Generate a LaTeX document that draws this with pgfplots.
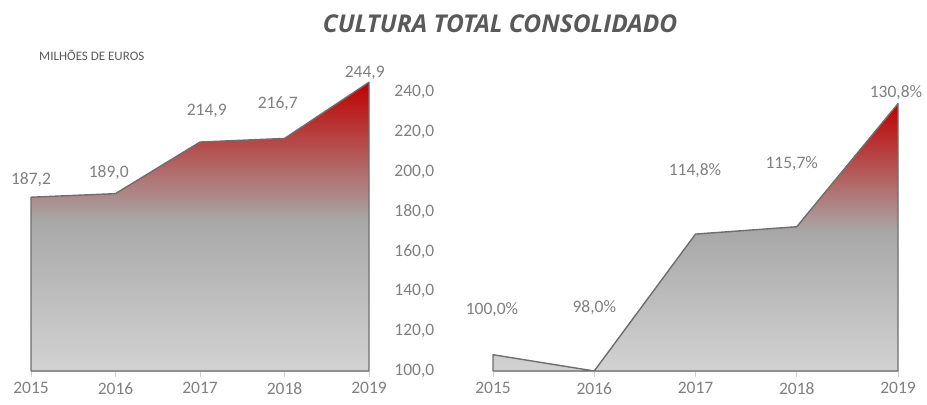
\documentclass[border=0pt]{standalone}
\usepackage{pgfplots}
\pgfplotsset{compat=1.18}
\usepackage{fontspec}
\setmainfont{Carlito}
\newfontfamily\titlefont{Open Sans}
\definecolor{txt}{HTML}{808080}
\definecolor{ttl}{HTML}{595959}
\definecolor{edge}{HTML}{6E6E6E}
\definecolor{axl}{HTML}{D0D0D0}
\definecolor{lg}{HTML}{D2D2D2}
\definecolor{mg}{HTML}{A8A8A8}
\definecolor{rd}{HTML}{C00000}
\pgfdeclareverticalshading{redgray}{100bp}{color(0bp)=(lg); color(25bp)=(lg); color(51bp)=(mg); color(75bp)=(rd); color(100bp)=(rd)}
\begin{document}
\begin{tikzpicture}
\path[use as bounding box] (0,0) rectangle (927bp,405bp);
\pgfplotsset{
  every axis/.append style={
    scale only axis, clip=false,
    height=279bp,
    xmin=2015, xmax=2019,
    xtick={2015,2016,2017,2018,2019},
    xticklabels={2015,2016,2017,2018,2019},
    separate axis lines,
    axis x line*=bottom,
    x axis line style={draw=axl, line width=1bp, -},
    xtick style={draw=axl, line width=0.8bp},
    major tick length=6bp,
    tick align=outside,
    ticklabel style={font=\fontsize{17.5bp}{20bp}\selectfont, text=txt},
    /pgf/number format/assume math mode=true,
    xticklabel style={yshift=-2bp},
  }
}
\begin{axis}[
  at={(31bp,34bp)}, anchor=south west,
  width=338bp,
  ymin=100, ymax=240,
  axis y line*=right,
  y axis line style={draw=none},
  ytick={100,120,...,240},
  ytick style={draw=none},
  yticklabel style={anchor=west, xshift=16bp, /pgf/number format/.cd, fixed, fixed zerofill, precision=1, use comma, 1000 sep={}},
]
\addplot[draw=edge, line width=1.4bp, shading=redgray, line join=round] coordinates {
 (2015,187.2) (2016,189.0) (2017,214.9) (2018,216.7) (2019,244.9)} \closedcycle;
\begin{scope}[every node/.style={font=\fontsize{17.5bp}{20bp}\selectfont, text=txt}]
\node at (axis cs:2015.0,195.8) {187,2};
\node at (axis cs:2015.92,199.3) {189,0};
\node at (axis cs:2017.08,230.5) {214,9};
\node at (axis cs:2017.92,234.0) {216,7};
\node at (axis cs:2018.95,249.5) {244,9};
\end{scope}
\end{axis}
\begin{axis}[
  at={(493bp,34bp)}, anchor=south west,
  width=405bp,
  ymin=98, ymax=132.23,
  axis y line=none,
]
\addplot[draw=edge, line width=1.4bp, shading=redgray, line join=round] coordinates {
 (2015,100.0) (2016,98.0) (2017,114.8) (2018,115.7) (2019,130.8)} \closedcycle;
\begin{scope}[every node/.style={font=\fontsize{17.5bp}{20bp}\selectfont, text=txt}]
\node at (axis cs:2014.99,105.48) {100,0\%};
\node at (axis cs:2016.0,105.73) {98,0\%};
\node at (axis cs:2016.995,122.54) {114,8\%};
\node at (axis cs:2017.95,123.4) {115,7\%};
\node[anchor=east, inner sep=1bp] at (axis cs:2019.25,132.1) {130,8\%};
\end{scope}
\end{axis}
\node[anchor=west, font=\fontsize{13bp}{15bp}\selectfont, text=ttl, inner sep=0] at (39bp,350bp) {MILHÕES DE EUROS};
\node[font=\titlefont\bfseries\itshape\fontsize{24.5bp}{28bp}\selectfont, text=ttl] at (500bp,381bp) {CULTURA TOTAL CONSOLIDADO};
\end{tikzpicture}
\end{document}
